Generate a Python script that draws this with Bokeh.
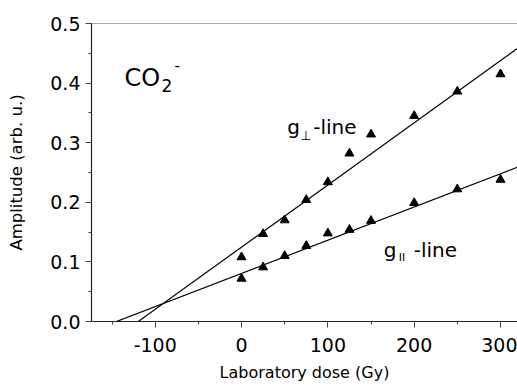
import numpy as np
from bokeh.plotting import figure
from bokeh.models import (Range1d, SingleIntervalTicker, PrintfTickFormatter, Span)
from bokeh.core.properties import value
from bokeh.embed import file_html
from bokeh.resources import INLINE

# ---- data ----
dose = [0, 25, 50, 75, 100, 125, 150, 200, 250, 300]
amp_perp = [0.108, 0.147, 0.170, 0.204, 0.234, 0.282, 0.314, 0.345, 0.386, 0.415]
amp_par = [0.072, 0.091, 0.110, 0.127, 0.148, 0.154, 0.169, 0.199, 0.222, 0.238]
fit_perp = [0.001043, 0.1248]   # slope, intercept
fit_par = [0.000557, 0.0807]
x_limits = [-173.8, 319.7]
y_limits = [0.0, 0.5]

FONT = "DejaVu Sans"

p = figure(width=517, height=384, output_backend="svg", toolbar_location=None,
           x_range=Range1d(*x_limits), y_range=Range1d(*y_limits),
           min_border_left=91, min_border_right=0, min_border_top=23,
           min_border_bottom=56)
p.outline_line_color = None
p.xgrid.visible = False
p.ygrid.visible = False
p.background_fill_color = "white"
p.border_fill_color = "white"

# axes
p.xaxis.ticker = SingleIntervalTicker(interval=100, num_minor_ticks=2)
p.yaxis.ticker = SingleIntervalTicker(interval=0.1, num_minor_ticks=2)
p.xaxis.formatter = PrintfTickFormatter(format="%d")
p.yaxis.formatter = PrintfTickFormatter(format="%.1f")
for ax in (p.xaxis, p.yaxis):
    ax.axis_line_color = "#222222"
    ax.axis_line_width = 1.2
    ax.major_tick_line_color = "#444444"
    ax.minor_tick_line_color = "#444444"
    ax.major_tick_in = 0
    ax.major_tick_out = 6
    ax.minor_tick_in = 0
    ax.minor_tick_out = 3
    ax.major_label_text_font = FONT
    ax.major_label_text_font_size = "19px"
    ax.major_label_text_color = "black"
    ax.axis_label_text_font = FONT
    ax.axis_label_text_font_style = "normal"
    ax.axis_label_text_color = "black"
p.xaxis.major_label_standoff = 10
p.yaxis.major_label_standoff = 5
p.xaxis.axis_label = "Laboratory dose (Gy)"
p.xaxis.axis_label_text_font_size = "16px"
p.xaxis.axis_label_standoff = 8
p.yaxis.axis_label = "Amplitude (arb. u.)"
p.yaxis.axis_label_text_font_size = "16.5px"
p.yaxis.axis_label_standoff = 21

# top border
p.add_layout(Span(location=0.5, dimension="width", line_color="#555555", line_width=1.2))

# fit lines
xl = np.array(x_limits)
p.line(xl, fit_perp[0] * xl + fit_perp[1], line_color="black", line_width=1.2)
p.line(xl, fit_par[0] * xl + fit_par[1], line_color="black", line_width=1.2)

# data points
p.scatter(dose, amp_perp, marker="triangle", size=9, fill_color="black", line_color="black")
p.scatter(dose, amp_par, marker="triangle", size=9, fill_color="black", line_color="black")

# in-plot labels
def txt(x, y, s, size, dx=0, dy=0):
    p.text(x=[x], y=[y], text=[s], text_font=value(FONT), text_font_size=size,
           text_color="black", text_align="left", text_baseline="alphabetic",
           x_offset=dx, y_offset=dy)

# CO2-
txt(-135.5, 0.408, "CO", "24px")
txt(-135.5, 0.408, "2", "17px", dx=37, dy=7)
txt(-135.5, 0.408, "-", "15px", dx=50, dy=-13)
# g⊥-line
txt(52.9, 0.326, "g", "20px")
txt(52.9, 0.326, "\u22a5", "13px", dx=13, dy=8)
txt(52.9, 0.326, "-line", "20px", dx=26)
# g||-line
txt(164.8, 0.1197, "g", "20px")
txt(164.8, 0.1197, "II", "11px", dx=15, dy=7)
txt(164.8, 0.1197, "-line", "20px", dx=30)

open("out.html", "w").write(file_html(p, INLINE))
